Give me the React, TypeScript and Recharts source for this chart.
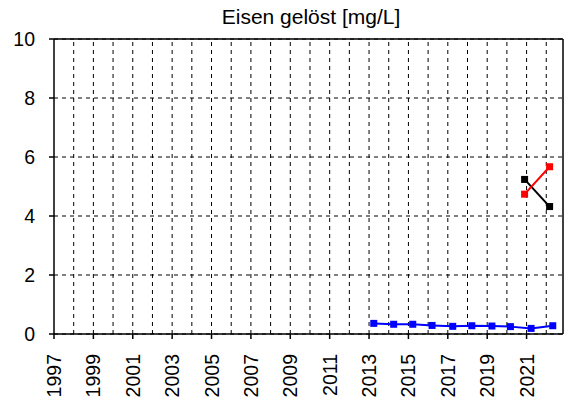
import { LineChart, Line, XAxis, YAxis, CartesianGrid, ReferenceLine } from "recharts";

const blueYears = [2013.24, 2014.25, 2015.22, 2016.2, 2017.25, 2018.22, 2019.24, 2020.18, 2021.23, 2022.33];
const blueValues = [0.36, 0.33, 0.33, 0.29, 0.26, 0.28, 0.27, 0.25, 0.19, 0.28];
const blackYears = [2020.9, 2022.17];
const blackValues = [5.24, 4.32];
const redYears = [2020.9, 2022.17];
const redValues = [4.74, 5.67];

const xTicks = [1997, 1999, 2001, 2003, 2005, 2007, 2009, 2011, 2013, 2015, 2017, 2019, 2021];
const gridYears = Array.from({ length: 25 }, (_, i) => 1998 + i);
const yTicks = [0, 2, 4, 6, 8, 10];
const X_MAX = 2022.85;

const toRows = (xs: number[], ys: number[]) => xs.map((x, i) => ({ x, y: ys[i] }));

const square = (color: string, size: number) => (props: any) => {
  const { cx, cy, index } = props;
  return <rect key={index} x={cx - size / 2} y={cy - size / 2} width={size} height={size} fill={color} />;
};

const XTick = (props: any) => {
  const { x, y, payload } = props;
  return (
    <text x={x} y={y} transform={`rotate(-90, ${x}, ${y})`} textAnchor="end" dy={7} fontSize={19.5} fill="#000">
      {payload.value}
    </text>
  );
};

export default function App() {
  return (
    <div style={{ position: "absolute", left: 0, top: 0, fontFamily: "Liberation Sans, Arial, sans-serif", background: "#fff" }}>
      <div style={{ position: "absolute", top: 5, left: 0, width: 622, textAlign: "center", fontSize: 21 }}>
        Eisen gelöst [mg/L]
      </div>
      <LineChart width={565} height={400} margin={{ top: 39, right: 2, left: 0, bottom: 0 }}>
        <CartesianGrid vertical={false} stroke="#000" strokeDasharray="4 4" />
        {gridYears.map((yr) => (
          <ReferenceLine key={yr} x={yr} stroke="#000" strokeDasharray="4 4" />
        ))}
        <ReferenceLine y={10} stroke="#000" strokeWidth={1.5} />
        <ReferenceLine x={X_MAX} stroke="#000" strokeWidth={1.5} />
        <XAxis
          type="number"
          dataKey="x"
          domain={[1997, X_MAX]}
          ticks={xTicks}
          interval={0}
          allowDataOverflow
          stroke="#000"
          strokeWidth={1.5}
          tickSize={5}
          tickMargin={15}
          tick={<XTick />}
          height={66}
        />
        <YAxis
          type="number"
          domain={[0, 10]}
          ticks={yTicks}
          interval={0}
          width={54}
          stroke="#000"
          strokeWidth={1.5}
          tickSize={5}
          tickMargin={14}
          tick={{ fill: "#000", fontSize: 19.5 }}
        />
        <Line data={toRows(blueYears, blueValues)} dataKey="y" stroke="#0000ff" strokeWidth={2} dot={square("#0000ff", 7)} isAnimationActive={false} />
        <Line data={toRows(blackYears, blackValues)} dataKey="y" stroke="#000" strokeWidth={2} dot={square("#000", 7)} isAnimationActive={false} />
        <Line data={toRows(redYears, redValues)} dataKey="y" stroke="#ff0000" strokeWidth={2} dot={square("#ff0000", 7)} isAnimationActive={false} />
      </LineChart>
    </div>
  );
}
